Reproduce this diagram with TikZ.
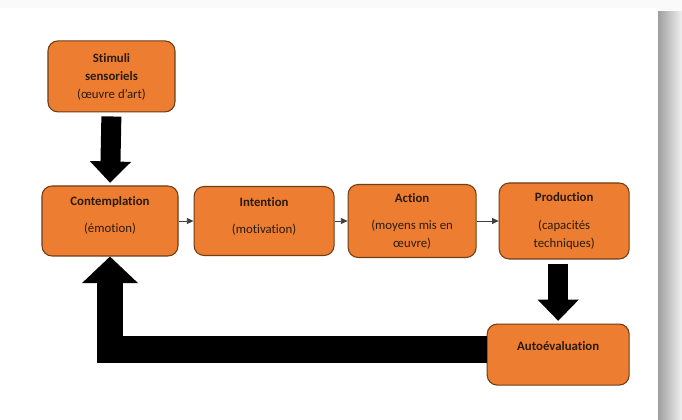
\documentclass[tikz,border=0pt]{standalone}
\usepackage{fontspec}
\setmainfont[Ligatures=NoCommon]{Carlito}
\usetikzlibrary{positioning,arrows.meta}
\definecolor{boxfill}{HTML}{ED7D31}
\definecolor{boxline}{HTML}{6E3E16}
\definecolor{boxtext}{HTML}{2A1C10}

\begin{document}
\begin{tikzpicture}[x=0.75pt, y=-0.75pt,
  box/.style={draw=boxline, fill=boxfill, line width=0.8pt, rounded corners=7.5pt, align=center, text=boxtext, font=\fontsize{9.6}{13.5}\selectfont, inner sep=2pt},
  link/.style={-{Triangle[length=5pt,width=4.5pt]}, line width=0.6pt, draw=black!75},
  bigarr/.style={-{Triangle[length=16pt,width=30pt]}, line width=15pt, shorten >=2pt, shorten <=3pt},
  backarr/.style={-{Triangle[length=20pt,width=41pt]}, line width=20pt},
]
\useasboundingbox (0,0) rectangle (682,420);
% page and its shadow
\fill[gray!4] (0,0) rectangle (682,420);
\fill[white] (0,8) rectangle (658,420);
\shade[left color=gray!75, right color=gray!12] (658,12) rectangle (682,420);

\node[box, minimum width=102pt, minimum height=52.5pt] (cont) at (110,221) {\textbf{Contemplation}\\[6.75pt](émotion)\\[-3.75pt]\mbox{}};
\node[box, minimum width=95.25pt, minimum height=53.25pt, above=54.75pt of cont, xshift=1.1pt] (stim) {\textbf{Stimuli}\\\textbf{sensoriels}\\(œuvre d’art)};
\node[box, minimum width=105pt, minimum height=51.75pt, right=11.25pt of cont] (int) {\textbf{Intention}\\[6.75pt](motivation)\\[-6pt]\mbox{}};
\node[box, minimum width=96pt, minimum height=54.75pt, right=9.75pt of int] (act) {\textbf{Action}\\[6.75pt](moyens mis en\\œuvre)};
\node[box, minimum width=97.5pt, minimum height=57pt, right=16.5pt of act] (prod) {\textbf{Production}\\[7.5pt](capacités\\techniques)};
\node[box, minimum width=106.5pt, minimum height=45.75pt, below=48pt of prod, xshift=-4.5pt, text height=7pt, text depth=13.5pt] (auto) {\textbf{Autoévaluation}};

\draw[link] (cont.east) -- (int.west);
\draw[link] (int.east) -- (act.west);
\draw[link] (act.east) -- (prod.west);
\draw[bigarr] (stim.south) -- (cont.north);
\draw[bigarr] (prod.south -| auto.north) -- (auto.north);
\draw[backarr] ([yshift=4pt]auto.west) -| (cont.south);
\end{tikzpicture}
\end{document}
